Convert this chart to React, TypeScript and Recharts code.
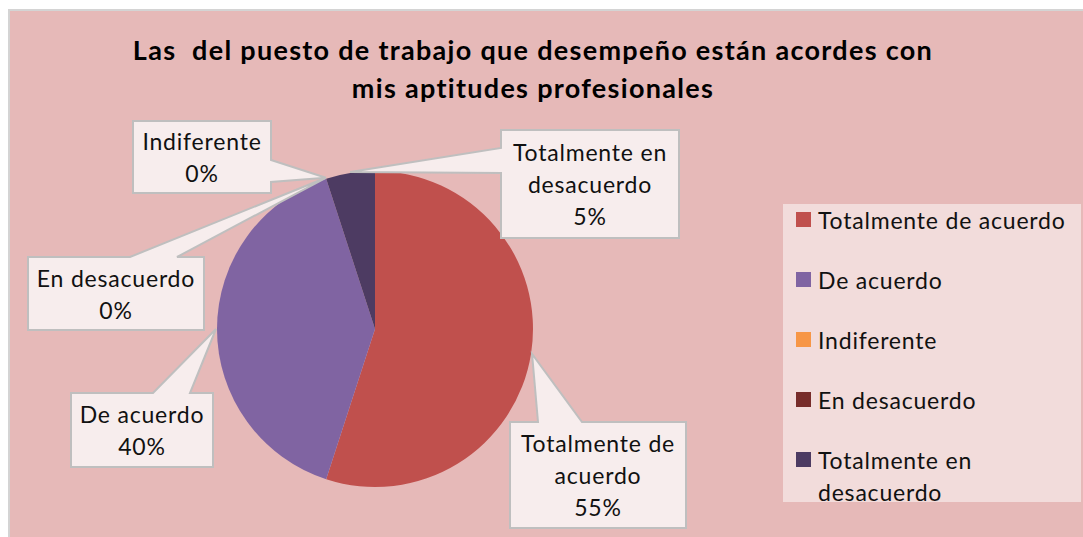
import { PieChart, Pie, Cell, Legend } from 'recharts'

const categories = ['Totalmente de acuerdo', 'De acuerdo', 'Indiferente', 'En desacuerdo', 'Totalmente en desacuerdo']
const percentages = [55, 40, 0, 0, 5]
const sliceColors = ['#C0504D', '#8064A2', '#F79646', '#772C2A', '#4D3B62']
const labelLines = [['Totalmente de', 'acuerdo'], ['De acuerdo'], ['Indiferente'], ['En desacuerdo'], ['Totalmente en', 'desacuerdo']]
const titleLines = ['Las  del puesto de trabajo que desempeño están acordes con', 'mis aptitudes profesionales']

const data = categories.map((name, i) => ({ name, value: percentages[i] }))

// callout boxes (layout only), wedge base on one side of the box
type Callout = { x: number; y: number; w: number; h: number; side: 'top' | 'left' | 'right'; a: number; b: number }
const callouts: Callout[] = [
  { x: 510, y: 422, w: 176, h: 106, side: 'top', a: 538, b: 582 },
  { x: 71, y: 393, w: 142, h: 74, side: 'top', a: 153, b: 190 },
  { x: 133, y: 121, w: 138, h: 72, side: 'right', a: 160, b: 182 },
  { x: 28, y: 257, w: 176, h: 73, side: 'top', a: 130, b: 177 },
  { x: 501, y: 130, w: 178, h: 108, side: 'left', a: 148, b: 173 },
]

const FONT = 'Lato, "Open Sans", sans-serif'
const RAD = Math.PI / 180

const calloutPath = (c: Callout, tx: number, ty: number) => {
  const { x, y, w, h, a, b } = c
  if (c.side === 'top')
    return `M${x},${y} L${a},${y} L${tx},${ty} L${b},${y} L${x + w},${y} L${x + w},${y + h} L${x},${y + h} Z`
  if (c.side === 'right')
    return `M${x},${y} L${x + w},${y} L${x + w},${a} L${tx},${ty} L${x + w},${b} L${x + w},${y + h} L${x},${y + h} Z`
  return `M${x},${y} L${x + w},${y} L${x + w},${y + h} L${x},${y + h} L${x},${b} L${tx},${ty} L${x},${a} Z`
}

const renderLabel = (props: any) => {
  const { cx, cy, midAngle, outerRadius, percent, index } = props
  const c = callouts[index]
  const r = outerRadius + 1
  const tx = cx + r * Math.cos(-midAngle * RAD)
  const ty = cy + r * Math.sin(-midAngle * RAD)
  const lines = [...labelLines[index], `${Math.round(percent * 100)}%`]
  const lh = 32
  const first = c.y + (c.h - lines.length * lh) / 2 + lh / 2
  return (
    <g key={`callout-${index}`}>
      <path d={calloutPath(c, tx, ty)} fill="#F7EDED" stroke="#BFBFBF" strokeWidth={2} strokeLinejoin="miter" />
      {lines.map((t, j) => (
        <text
          key={j}
          x={c.x + c.w / 2}
          y={first + j * lh}
          textAnchor="middle"
          dominantBaseline="central"
          fontFamily={FONT}
          fontSize={23}
          letterSpacing={0.8}
          fill="#111"
        >
          {t}
        </text>
      ))}
    </g>
  )
}

const LegendBox = () => (
  <div style={{ width: 298, height: 298, background: '#F2DCDB', boxSizing: 'border-box', paddingLeft: 13, paddingTop: 0, fontFamily: FONT, fontSize: 23, letterSpacing: 0.8, color: '#111' }}>
    {categories.map((name, i) => (
      <div key={name} style={{ display: 'flex', alignItems: 'flex-start', marginTop: i === 0 ? -3 : 0, marginBottom: 28, lineHeight: '32px' }}>
        <span style={{ width: 15, height: 15, background: sliceColors[i], marginTop: 8, marginRight: 7, flexShrink: 0 }} />
        <span style={{ width: 263 }}>{name}</span>
      </div>
    ))}
  </div>
)

export default function App() {
  return (
    <div style={{ position: 'absolute', left: 0, top: 0, width: 1083, height: 537, overflow: 'hidden' }}>
      <div
        style={{
          position: 'absolute',
          left: 8,
          top: 9,
          right: 0,
          bottom: 0,
          background: '#E6B9B8',
          borderLeft: '2px solid #D4D4D4',
          borderTop: '2px solid #D4D4D4',
        }}
      />
      <div
        style={{
          position: 'absolute',
          left: 0,
          top: 31,
          width: 1066,
          textAlign: 'center',
          fontFamily: FONT,
          fontWeight: 'bold',
          fontSize: 27,
          letterSpacing: 1.3,
          lineHeight: '38px',
          color: '#000',
          whiteSpace: 'pre',
        }}
      >
        {titleLines.map((t, i) => (
          <div key={i}>{t}</div>
        ))}
      </div>
      <div style={{ position: 'absolute', left: 0, top: 0 }}>
        <PieChart width={1083} height={537} margin={{ top: 0, right: 0, bottom: 0, left: 0 }}>
          <Pie
            data={data}
            dataKey="value"
            nameKey="name"
            cx={375}
            cy={329}
            outerRadius={158}
            startAngle={90}
            endAngle={-270}
            stroke="none"
            label={renderLabel}
            labelLine={false}
            isAnimationActive={false}
          >
            {data.map((d, i) => (
              <Cell key={d.name} fill={sliceColors[i]} stroke="none" />
            ))}
          </Pie>
          <Legend
            layout="vertical"
            align="right"
            verticalAlign="middle"
            content={<LegendBox />}
            wrapperStyle={{ position: 'absolute', left: 783, top: 207, width: 298, height: 298 }}
          />
        </PieChart>
      </div>
    </div>
  )
}
